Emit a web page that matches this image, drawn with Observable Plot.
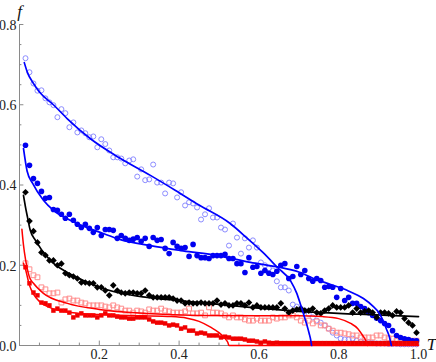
<!DOCTYPE html>
<html>
<head>
<meta charset="utf-8">
<script src="https://cdn.jsdelivr.net/npm/d3@7"></script>
<script src="https://cdn.jsdelivr.net/npm/@observablehq/plot@0.6"></script>
<style>
html,body{margin:0;padding:0;background:#fff;}
#chart{width:436px;height:362px;}
</style>
</head>
<body>
<div id="chart"></div>
<script>
// Temperatures of the measured points
const ts = [0.015,0.025,0.035,0.045,0.055,0.065,0.075,0.085,0.095,0.105,
0.115,0.125,0.135,0.145,0.155,0.165,0.175,0.185,0.195,0.205,
0.215,0.225,0.235,0.245,0.255,0.265,0.275,0.285,0.295,0.305,
0.315,0.325,0.335,0.345,0.355,0.365,0.375,0.385,0.395,0.405,
0.415,0.425,0.435,0.445,0.455,0.465,0.475,0.485,0.495,0.505,
0.515,0.525,0.535,0.545,0.555,0.565,0.575,0.585,0.595,0.605,
0.615,0.625,0.635,0.645,0.655,0.665,0.675,0.685,0.695,0.705,
0.715,0.725,0.735,0.745,0.755,0.765,0.775,0.785,0.795,0.805,
0.815,0.825,0.835,0.845,0.855,0.865,0.875,0.885,0.895,0.905,
0.915,0.925,0.935,0.945,0.955,0.965,0.975,0.985,0.995];

// Open blue circles
const fOpenBlue = [0.716,0.681,0.653,0.635,0.636,0.616,0.606,0.599,0.569,0.589,
0.579,0.544,0.556,0.531,0.536,0.529,0.519,0.521,0.494,0.514,
0.502,0.486,0.469,0.469,0.466,0.454,0.461,0.464,0.421,0.439,
0.412,0.414,0.451,0.406,0.406,0.379,0.406,0.404,0.369,0.382,
0.349,0.357,0.354,0.344,0.314,0.327,0.342,0.319,0.319,0.294,
0.289,0.249,0.304,0.269,0.229,0.267,0.244,0.262,0.244,0.207,
0.200,0.192,0.187,0.160,0.145,0.145,0.137,0.102,0.097,0.092,
0.087,0.078,0.070,0.062,0.057,0.050,0.042,0.032,0.025,0.017,
0.015,0.015,0.017,0.012,0.010,0.008,0.008,0.006,0.005,0.005,
0.005,0.004,0.004,0.004,0.003,0.003,0.003,0.003,0.003];

// Filled blue circles
const fFilledBlue = [0.499,0.449,0.416,0.404,0.384,0.367,0.369,0.339,0.337,0.327,
0.317,0.327,0.312,0.302,0.294,0.302,0.292,0.282,0.294,0.274,
0.289,0.289,0.287,0.267,0.274,0.267,0.262,0.265,0.269,0.260,
0.267,0.247,0.269,0.262,0.264,0.242,0.229,0.257,0.247,0.242,
0.244,0.222,0.252,0.224,0.219,0.219,0.217,0.224,0.224,0.224,
0.227,0.217,0.217,0.204,0.204,0.182,0.219,0.195,0.197,0.180,
0.187,0.180,0.177,0.185,0.200,0.204,0.167,0.172,0.197,0.177,
0.187,0.167,0.160,0.167,0.162,0.145,0.147,0.145,0.120,0.142,
0.112,0.120,0.105,0.105,0.097,0.092,0.082,0.075,0.068,0.062,
0.055,0.050,0.037,0.025,0.020,0.017,0.015,0.012,0.012];

// Black diamonds
const fBlack = [0.382,0.310,0.285,0.257,0.232,0.225,0.212,0.212,0.200,0.204,
0.180,0.175,0.172,0.167,0.157,0.157,0.155,0.155,0.145,0.145,
0.137,0.125,0.150,0.137,0.132,0.130,0.132,0.132,0.130,0.130,
0.137,0.125,0.120,0.120,0.120,0.120,0.120,0.117,0.112,0.112,
0.105,0.107,0.105,0.105,0.107,0.105,0.105,0.105,0.112,0.102,
0.105,0.100,0.100,0.105,0.105,0.100,0.107,0.095,0.100,0.095,
0.095,0.095,0.095,0.095,0.105,0.092,0.082,0.087,0.090,0.092,
0.087,0.087,0.092,0.082,0.080,0.087,0.092,0.100,0.095,0.095,
0.095,0.100,0.082,0.092,0.082,0.085,0.087,0.082,0.070,0.082,
0.082,0.080,0.075,0.085,0.082,0.067,0.057,0.050,0.032];

// Open red squares
const fOpenRed = [0.205,0.190,0.175,0.170,0.145,0.140,0.130,0.130,0.132,0.107,
0.115,0.117,0.112,0.112,0.107,0.105,0.100,0.100,0.100,0.100,
0.097,0.095,0.100,0.095,0.092,0.087,0.087,0.082,0.087,0.085,
0.082,0.090,0.087,0.087,0.092,0.087,0.085,0.082,0.082,0.082,
0.085,0.092,0.080,0.080,0.082,0.075,0.095,0.082,0.082,0.080,
0.075,0.070,0.075,0.070,0.070,0.065,0.062,0.062,0.067,0.062,
0.062,0.062,0.070,0.067,0.070,0.070,0.075,0.075,0.070,0.062,
0.057,0.062,0.055,0.060,0.050,0.050,0.042,0.037,0.032,0.032,
0.030,0.028,0.025,0.025,0.020,0.020,0.020,0.020,0.025,0.025,
0.020,0.018,0.017,0.012,0.017,0.012,0.012,0.012,0.012];

// Filled red squares
const fFilledRed = [0.195,0.155,0.132,0.125,0.107,0.105,0.100,0.087,0.092,0.087,
0.087,0.082,0.070,0.075,0.080,0.075,0.075,0.075,0.070,0.075,
0.080,0.075,0.075,0.072,0.070,0.070,0.067,0.067,0.070,0.070,
0.070,0.065,0.060,0.057,0.057,0.055,0.050,0.052,0.050,0.042,
0.045,0.037,0.037,0.030,0.032,0.030,0.025,0.025,0.025,0.020,
0.022,0.020,0.017,0.017,0.017,0.015,0.012,0.012,0.010,0.007,
0.010,0.007,0.006,0.007,0.006,0.006,0.006,0.006,0.006,0.006,
0.006,0.006,0.006,0.006,0.006,0.006,0.006,0.006,0.006,0.006,
0.006,0.006,0.006,0.006,0.006,0.006,0.006,0.006,0.006,0.006,
0.006,0.006,0.006,0.006,0.006,0.006,0.006,0.006,0.006];

// Theory curves
const lineBlueOpenT = [0.012,0.02,0.035,0.05,0.085,0.12,0.177,0.25,0.328,0.39,0.45,0.528,0.571,0.61,0.646,0.68,0.695,0.705,0.713,0.72,0.726,0.73,0.732];
const lineBlueOpenF = [0.705,0.68,0.653,0.632,0.60,0.565,0.516,0.468,0.424,0.387,0.35,0.304,0.267,0.232,0.195,0.16,0.13,0.10,0.075,0.052,0.03,0.013,0.0];

const lineBlueFilledT = [0.01,0.019,0.033,0.06,0.085,0.127,0.21,0.253,0.328,0.41,0.496,0.579,0.646,0.70,0.737,0.78,0.822,0.862,0.887,0.90,0.912,0.92,0.926,0.932];
const lineBlueFilledF = [0.491,0.435,0.404,0.362,0.337,0.312,0.279,0.264,0.249,0.236,0.224,0.207,0.196,0.183,0.167,0.152,0.137,0.117,0.097,0.083,0.060,0.040,0.025,0.0];

const lineBlackT = [0.01,0.015,0.02,0.027,0.04,0.077,0.12,0.16,0.2,0.245,0.32,0.4,0.453,0.578,0.7,0.85,1.0];
const lineBlackF = [0.374,0.345,0.32,0.287,0.262,0.212,0.182,0.162,0.145,0.132,0.12,0.112,0.107,0.095,0.085,0.078,0.072];

const lineRedOpenT = [0.006,0.01,0.015,0.025,0.035,0.06,0.12,0.2,0.32,0.45,0.6,0.7,0.76,0.8,0.83,0.848,0.86,0.868,0.872];
const lineRedOpenF = [0.29,0.25,0.215,0.17,0.155,0.13,0.105,0.09,0.08,0.075,0.074,0.074,0.072,0.067,0.055,0.042,0.025,0.012,0.0];

const lineRedFilledT = [0.01,0.015,0.025,0.035,0.05,0.075,0.1,0.15,0.2,0.3,0.38,0.42,0.45,0.48,0.5,0.515,0.522,0.525,0.7,1.0];
const lineRedFilledF = [0.205,0.19,0.15,0.128,0.11,0.095,0.087,0.08,0.077,0.074,0.072,0.068,0.06,0.045,0.032,0.018,0.008,0.0,0.0,0.0];

// Axes
const xMajor = [0.2,0.4,0.6,0.8,1.0];
const xLabels = ["0.2","0.4","0.6","0.8","1.0"];
const xMinor = [0.05,0.1,0.15,0.25,0.3,0.35,0.45,0.5,0.55,0.65,0.7,0.75,0.85,0.9,0.95];
const yMajor = [0.0,0.2,0.4,0.6,0.8];
const yLabels = ["0.0","0.2","0.4","0.6","0.8"];
const yMinor = [0.05,0.1,0.15,0.25,0.3,0.35,0.45,0.5,0.55,0.65,0.7,0.75];

const pts = (f) => ts.map((t, i) => ({t, f: f[i]}));
const curve = (T, F) => T.map((t, i) => ({t, f: F[i]}));

const serif = "Liberation Serif, Times New Roman, serif";
const axisColor = "#8a8a8a";

const chart = Plot.plot({
  width: 436,
  height: 362,
  marginLeft: 19,
  marginRight: 18,
  marginTop: 24,
  marginBottom: 17,
  x: {domain: [0, 1], axis: null},
  y: {domain: [0, 0.8], axis: null},
  style: {background: "white", overflow: "visible"},
  marks: [
    // axes
    Plot.ruleX([0], {y1: 0, y2: 0.8, stroke: axisColor, strokeWidth: 1}),
    Plot.ruleY([0], {x1: 0, x2: 1, stroke: axisColor, strokeWidth: 1}),
    Plot.ruleX(xMajor, {x: d => d, y1: 0, y2: 0.011, stroke: axisColor}),
    Plot.ruleX(xMinor, {x: d => d, y1: 0, y2: 0.006, stroke: axisColor}),
    Plot.ruleY(yMajor, {y: d => d, x1: 0, x2: 0.011, stroke: axisColor}),
    Plot.ruleY(yMinor, {y: d => d, x1: 0, x2: 0.006, stroke: axisColor}),
    Plot.text(yMajor, {x: 0, y: d => d, text: (d, i) => yLabels[i], dx: -3, dy: 1, textAnchor: "end", fontSize: 14, fontFamily: serif, fill: "#222"}),
    Plot.text(xMajor, {x: d => d, y: 0, text: (d, i) => xLabels[i], dy: 9, fontSize: 14, fontFamily: serif, fill: "#222"}),
    Plot.text(["f"], {x: 0, y: 0.8, text: d => d, dx: 0, dy: -13, fontSize: 17, fontStyle: "italic", fontFamily: serif, fill: "#111"}),
    Plot.text(["T"], {x: 1, y: 0, text: d => d, dx: 13, dy: -1, fontSize: 17, fontStyle: "italic", fontFamily: serif, fill: "#111"}),
    // data points
    Plot.dot(pts(fOpenBlue), {x: "t", y: "f", r: 2.5, stroke: "#8c8cff", fill: "none", strokeWidth: 1}),
    Plot.dot(pts(fOpenRed), {x: "t", y: "f", symbol: "square", r: 2.7, stroke: "#ff8c8c", fill: "none", strokeWidth: 1}),
    Plot.dot(pts(fFilledBlue), {x: "t", y: "f", r: 2.8, fill: "#0000f0", stroke: "none"}),
    Plot.dot(pts(fBlack), {x: "t", y: "f", symbol: "diamond2", r: 3.0, fill: "#000", stroke: "none"}),
    Plot.dot(pts(fFilledRed), {x: "t", y: "f", symbol: "square", r: 2.5, fill: "#f00000", stroke: "none"}),
    // theory curves
    Plot.line(curve(lineRedFilledT, lineRedFilledF), {x: "t", y: "f", stroke: "#ff0000", strokeWidth: 1.5, curve: "monotone-x"}),
    Plot.line(curve(lineRedOpenT, lineRedOpenF), {x: "t", y: "f", stroke: "#ff0000", strokeWidth: 1.5, curve: "monotone-x"}),
    Plot.line(curve(lineBlackT, lineBlackF), {x: "t", y: "f", stroke: "#000", strokeWidth: 1.7, curve: "monotone-x"}),
    Plot.line(curve(lineBlueFilledT, lineBlueFilledF), {x: "t", y: "f", stroke: "#0000ff", strokeWidth: 1.7, curve: "monotone-x"}),
    Plot.line(curve(lineBlueOpenT, lineBlueOpenF), {x: "t", y: "f", stroke: "#0000ff", strokeWidth: 1.7, curve: "monotone-x"})
  ]
});
document.getElementById("chart").appendChild(chart);
</script>
</body>
</html>
